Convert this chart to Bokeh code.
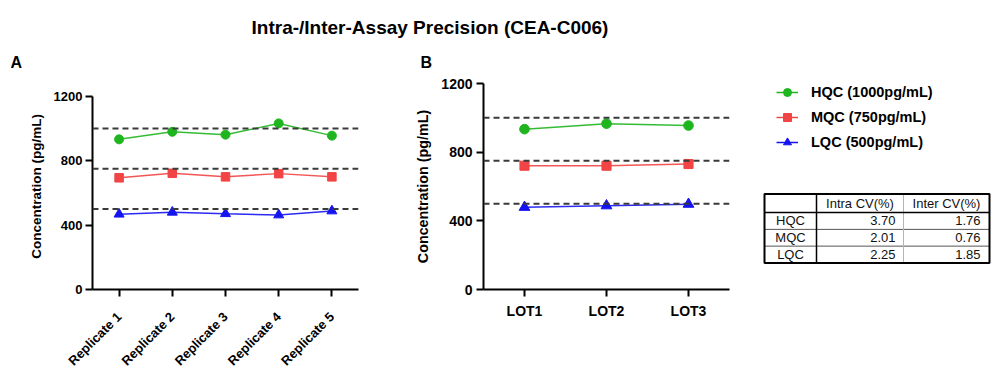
import math
from bokeh.plotting import figure
from bokeh.layouts import column, row
from bokeh.models import (Range1d, FactorRange, Span, Legend, LegendItem, FixedTicker)
from bokeh.embed import file_html
from bokeh.resources import INLINE
from bokeh.core.properties import value

# ---------------- data ----------------
title_text = "Intra-/Inter-Assay Precision (CEA-C006)"
panel_labels = ["A", "B"]
replicates = ["Replicate 1", "Replicate 2", "Replicate 3", "Replicate 4", "Replicate 5"]
lots = ["LOT1", "LOT2", "LOT3"]
series_names = ["HQC (1000pg/mL)", "MQC (750pg/mL)", "LQC (500pg/mL)"]
nominal = [1000, 750, 500]

intra_hqc = [933, 980, 962, 1032, 956]
intra_mqc = [694, 722, 700, 720, 700]
intra_lqc = [468, 480, 471, 463, 488]

inter_hqc = [934, 966, 955]
inter_mqc = [721, 721, 731]
inter_lqc = [479, 488, 497]

y_ticks = [0, 400, 800, 1200]
y_label = "Concentration (pg/mL)"

table_header = ["", "Intra CV(%)", "Inter CV(%)"]
table_rows = ["HQC", "MQC", "LQC"]
intra_cv = [3.70, 2.01, 2.25]
inter_cv = [1.76, 0.76, 1.85]

# ---------------- style ----------------
FONT = "Liberation Sans"
colors = ["#1fb51f", "#f24444", "#1414f0"]
markers = ["circle", "square", "triangle"]
marker_sizes = [9, 8.5, 10]
DASH_COLOR = "#3a3a3a"
TOP_H = 70          # height of the header strip (title + panel letters)
ROW_H = 376 - TOP_H
BORDER_T, BORDER_B = 13, 84   # shared frame top/bottom inside the row


def base_fig(width, x_range, y_end, left, right):
    p = figure(width=width, height=ROW_H, x_range=x_range, y_range=Range1d(0, y_end),
               output_backend="svg", toolbar_location=None,
               min_border_left=left, min_border_right=right,
               min_border_top=BORDER_T, min_border_bottom=BORDER_B)
    p.outline_line_color = None
    p.xgrid.visible = False
    p.ygrid.visible = False
    return p


def style_axes(p, fs_tick, fs_label, label_standoff, tick_standoff_y, tick_standoff_x):
    for ax in (p.xaxis[0], p.yaxis[0]):
        ax.axis_line_width = 2
        ax.axis_line_color = "black"
        ax.major_tick_line_width = 2
        ax.major_tick_line_color = "black"
        ax.major_tick_out = 7
        ax.major_tick_in = 0
        ax.minor_tick_line_color = None
        ax.major_label_text_font = FONT
        ax.major_label_text_font_style = "bold"
        ax.major_label_text_font_size = f"{fs_tick}px"
        ax.major_label_text_color = "black"
    p.yaxis[0].ticker = FixedTicker(ticks=y_ticks)
    p.yaxis[0].bounds = (y_ticks[0], y_ticks[-1])
    p.yaxis[0].axis_label = y_label
    p.yaxis[0].axis_label_text_font = FONT
    p.yaxis[0].axis_label_text_font_style = "bold"
    p.yaxis[0].axis_label_text_font_size = f"{fs_label}px"
    p.yaxis[0].axis_label_text_color = "black"
    p.yaxis[0].axis_label_standoff = label_standoff
    p.yaxis[0].major_label_standoff = tick_standoff_y
    p.xaxis[0].major_label_standoff = tick_standoff_x


def draw_series(p, cats, series_list, msize_scale=1.0):
    for vals, c, m, s in zip(series_list, colors, markers, marker_sizes):
        p.line(x=cats, y=vals, line_color=c, line_width=1.5, line_alpha=0.9)
        p.scatter(x=cats, y=vals, marker=m, size=s * msize_scale,
                  fill_color=c, line_color=c)


def add_spans(p):
    for n in nominal:
        p.add_layout(Span(location=n, dimension="width", line_color=DASH_COLOR,
                          line_width=2, line_dash="6 4"))


# ---------------- header strip: title + panel letters ----------------
pT = figure(width=1000, height=TOP_H, x_range=Range1d(0, 1000), y_range=Range1d(TOP_H, 0),
            output_backend="svg", toolbar_location=None,
            x_axis_location=None, y_axis_location=None,
            min_border_left=0, min_border_right=0, min_border_top=0, min_border_bottom=0)
pT.outline_line_color = None
pT.xgrid.visible = False
pT.ygrid.visible = False
pT.text(x=[429.5], y=[26.5], text=[title_text], text_font=value(FONT),
        text_font_style="bold", text_font_size="19px", text_align="center",
        text_baseline="alphabetic", text_color="black")
pT.text(x=[10, 420], y=[62, 62], text=panel_labels, text_font=value(FONT),
        text_font_style="bold", text_font_size="16px", text_align="left",
        text_baseline="alphabetic", text_color="black")

# ---------------- panel A ----------------
# frame shared with panel B (page y 83..292); A's 1200 sits at page y 96
pA = base_fig(400, FactorRange(*replicates), 1280, 92, 42)
add_spans(pA)
draw_series(pA, replicates, [intra_hqc, intra_mqc, intra_lqc])
style_axes(pA, 13, 13.5, 7, 3, 18)
pA.xaxis[0].major_label_orientation = math.pi / 4

# ---------------- panel B ----------------
pB = base_fig(340, FactorRange(*lots), 1200, 83, 11)
add_spans(pB)
draw_series(pB, lots, [inter_hqc, inter_mqc, inter_lqc], 1.07)
style_axes(pB, 14, 14.3, 7, 4, 6)

# ---------------- legend + table ----------------
frame_top = TOP_H + BORDER_T
frame_bot = 376 - BORDER_B
pC = figure(width=260, height=ROW_H, x_range=Range1d(740, 1000),
            y_range=Range1d(frame_bot, frame_top),
            output_backend="svg", toolbar_location=None,
            x_axis_location=None, y_axis_location=None,
            min_border_left=0, min_border_right=0,
            min_border_top=BORDER_T, min_border_bottom=BORDER_B)
pC.outline_line_color = None
pC.xgrid.visible = False
pC.ygrid.visible = False

# legend proxies (no visible data point; they only carry the series styling)
nan = float("nan")
items = []
for name, c, m, s in zip(series_names, colors, markers, marker_sizes):
    rl = pC.line(x=[nan], y=[nan], line_color=c, line_width=1.5)
    rm = pC.scatter(x=[nan], y=[nan], marker=m, size=s, fill_color=c, line_color=c)
    items.append(LegendItem(label=name, renderers=[rl, rm], index=0))
legend = Legend(items=items, location=(36, frame_bot - 155), label_text_font=FONT,
                label_text_font_style="bold", label_text_font_size="14.5px",
                label_text_color="black", glyph_width=22, glyph_height=20,
                label_height=20, label_standoff=13, spacing=5, padding=0, margin=0,
                border_line_alpha=0, background_fill_alpha=0)
pC.add_layout(legend)

# table geometry (layout only, page pixels)
col_edges = [764, 816, 903, 989]
row_edges = [195, 214, 231, 248, 265]
pC.segment(x0=[col_edges[0], col_edges[0]], x1=[col_edges[3], col_edges[3]],
           y0=[row_edges[2], row_edges[3]], y1=[row_edges[2], row_edges[3]],
           line_color="#555555", line_width=1)
pC.segment(x0=[col_edges[2]], x1=[col_edges[2]], y0=[row_edges[0]], y1=[row_edges[4]],
           line_color="#b5b5b5", line_width=1)
pC.segment(x0=[col_edges[1], col_edges[0]], x1=[col_edges[1], col_edges[3]],
           y0=[row_edges[0], row_edges[1]], y1=[row_edges[4], row_edges[1]],
           line_color="black", line_width=1.5)
pC.quad(left=[col_edges[0]], right=[col_edges[3]], top=[row_edges[0]], bottom=[row_edges[4]],
        fill_color=None, line_color="black", line_width=2)

tx, ty, tt, ta = [], [], [], []
for j, h in enumerate(table_header):
    if h:
        tx.append((col_edges[j] + col_edges[j + 1]) / 2)
        ty.append((row_edges[0] + row_edges[1]) / 2)
        tt.append(h)
        ta.append("center")
for i, (name, a, b) in enumerate(zip(table_rows, intra_cv, inter_cv)):
    yc = (row_edges[i + 1] + row_edges[i + 2]) / 2
    tx += [(col_edges[0] + col_edges[1]) / 2, col_edges[2] - 8, col_edges[3] - 9]
    ty += [yc, yc, yc]
    tt += [name, f"{a:.2f}", f"{b:.2f}"]
    ta += ["center", "right", "right"]
pC.text(x=tx, y=ty, text=tt, text_align=ta, text_baseline="middle",
        text_font=value(FONT), text_font_size="13px", text_color="#111111")

layout = column(pT, row(pA, pB, pC))
open("out.html", "w").write(file_html(layout, INLINE))
